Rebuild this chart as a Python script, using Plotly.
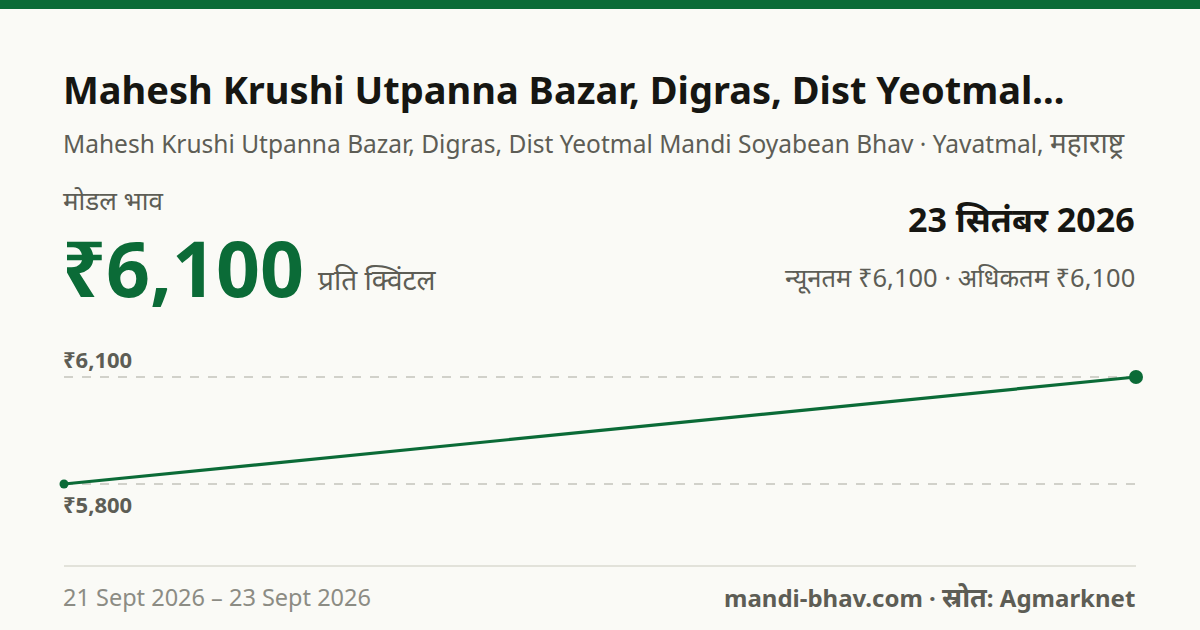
import plotly.graph_objects as go

# data
dates = ["2026-09-21", "2026-09-23"]
prices = [5800, 6100]
tick_vals = [5800, 6100]
tick_text = ["₹5,800", "₹6,100"]

title = "Mahesh Krushi Utpanna Bazar, Digras, Dist Yeotmal..."
subtitle = ("Mahesh Krushi Utpanna Bazar, Digras, Dist Yeotmal Mandi Soyabean Bhav · Yavatmal, "
            "<span style='font-size:28px'>महाराष्ट्र</span>")
price_label = "मोडल भाव"
price_text = "₹6,100"
unit_text = "प्रति क्विंटल"
date_text = "23 सितंबर 2026"
minmax_text = "न्यूनतम ₹6,100 · अधिकतम ₹6,100"
range_text = "21 Sept 2026 – 23 Sept 2026"
source_text = "mandi-bhav.com · <span style='font-size:27px'>स्रोत</span>: Agmarknet"

W, H = 1200, 630
GREEN = "#0b6b37"
FONT = "Noto Sans"
L, R = 61, 1137  # text edges (annotation padding eats a few px)


def px(x):
    return x / W


def py(y):
    return 1 - y / H


# y range so that 6100 sits at 377px and 5800 at 484px, domain 330..540px
scale = (484 - 377) / (6100 - 5800)
y_top, y_bot = 330, 540
ymax = 6100 + (377 - y_top) / scale
ymin = 5800 - (y_bot - 484) / scale

fig = go.Figure()
fig.add_trace(go.Scatter(
    x=dates, y=prices, mode="lines+markers",
    line=dict(color=GREEN, width=3.2),
    marker=dict(color=GREEN, size=[9, 14], opacity=1, line=dict(width=0)),
    cliponaxis=False,
    hoverinfo="skip",
))

fig.update_xaxes(domain=[px(64), px(1136)], visible=False,
                 range=[dates[0], dates[-1]], type="date")
fig.update_yaxes(domain=[py(y_bot), py(y_top)], range=[ymin, ymax],
                 showgrid=False, zeroline=False, showticklabels=False)

shapes = [
    dict(type="rect", xref="paper", yref="paper", x0=0, x1=1, y0=py(9), y1=1,
         fillcolor=GREEN, line_width=0),
    dict(type="line", xref="paper", yref="paper", x0=px(64), x1=px(1136),
         y0=py(566), y1=py(566), line=dict(color="#e2e2da", width=2)),
]
for v in tick_vals:
    shapes.append(dict(type="line", xref="paper", yref="y", x0=px(64), x1=px(1136),
                       y0=v, y1=v, layer="below",
                       line=dict(color="#c4c4bc", width=1.3, dash="dash")))

ann = [
    dict(text="<b>" + title + "</b>", x=px(L), y=py(89), xanchor="left",
         font=dict(size=38, color="#161612")),
    dict(text=subtitle, x=px(L), y=py(142), xanchor="left",
         font=dict(size=24.5, color="#5d5d55")),
    dict(text=price_label, x=px(L), y=py(200), xanchor="left",
         font=dict(size=26, color="#5d5d55")),
    dict(text="<b>" + price_text + "</b>", x=px(L - 1), y=py(267), xanchor="left",
         font=dict(size=77, color=GREEN)),
    dict(text=unit_text, x=px(316), y=py(279), xanchor="left",
         font=dict(size=28, color="#5d5d55")),
    dict(text="<b>" + date_text + "</b>", x=px(R), y=py(219), xanchor="right",
         font=dict(size=34, color="#161612")),
    dict(text=minmax_text, x=px(R), y=py(277), xanchor="right",
         font=dict(size=25.5, color="#5d5d55")),
    dict(text="<b>" + tick_text[1] + "</b>", x=px(L), y=py(359), xanchor="left",
         font=dict(size=22, color="#5d5d55")),
    dict(text="<b>" + tick_text[0] + "</b>", x=px(L), y=py(504), xanchor="left",
         font=dict(size=22, color="#5d5d55")),
    dict(text=range_text, x=px(L), y=py(597), xanchor="left",
         font=dict(size=23.5, color="#8c8c84")),
    dict(text="<b>" + source_text + "</b>", x=px(R), y=py(596), xanchor="right",
         font=dict(size=24, color="#5d5d55")),
]
for a in ann:
    a.update(xref="paper", yref="paper", yanchor="middle", showarrow=False)

fig.update_layout(
    width=W, height=H,
    margin=dict(l=0, r=0, t=0, b=0),
    paper_bgcolor="#fafaf6", plot_bgcolor="#fafaf6",
    font=dict(family=FONT),
    showlegend=False,
    shapes=shapes,
    annotations=ann,
)

fig.write_html("out.html", config={"displayModeBar": False},
               post_script="document.body.style.margin='0';")
